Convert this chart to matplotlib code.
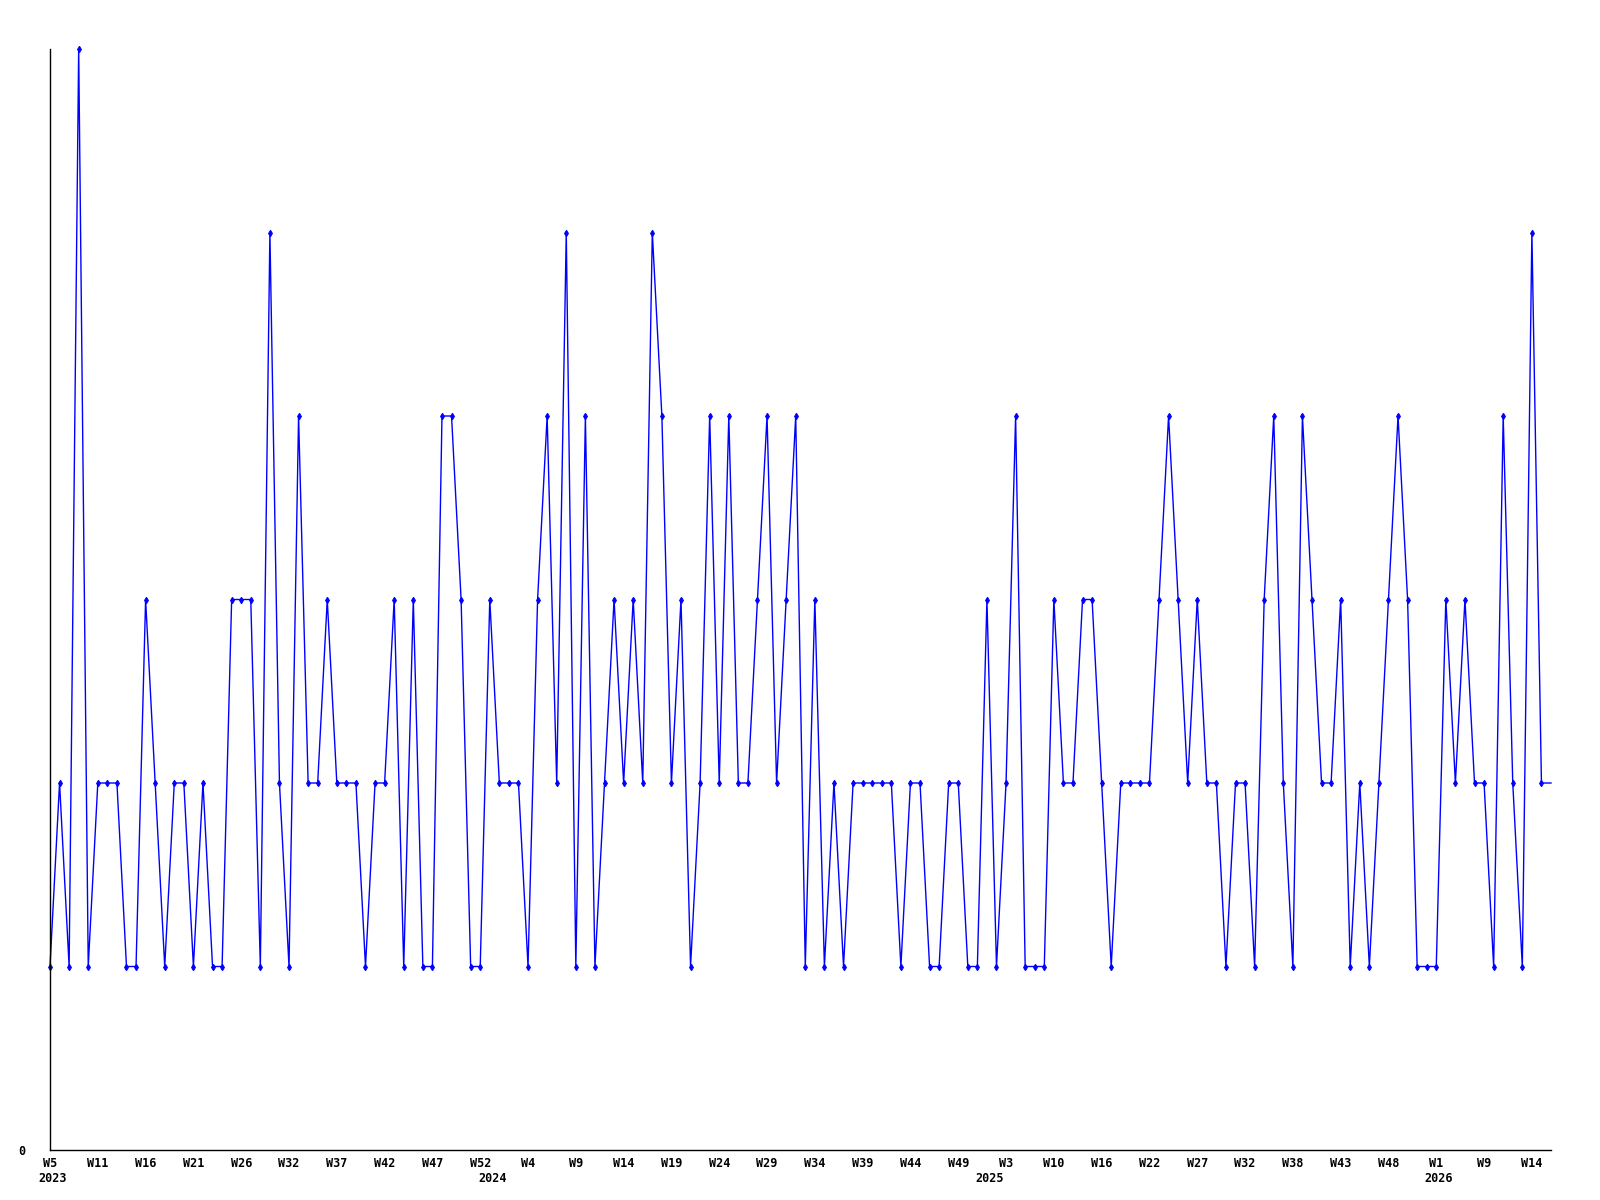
import matplotlib
matplotlib.use("Agg")
import matplotlib.pyplot as plt

# weekly values (index = data point order); last value is the open (current) week
values = [1, 2, 1, 6, 1, 2, 2, 2, 1, 1, 3, 2, 1, 2, 2, 1, 2, 1, 1, 3,
          3, 3, 1, 5, 2, 1, 4, 2, 2, 3, 2, 2, 2, 1, 2, 2, 3, 1, 3, 1,
          1, 4, 4, 3, 1, 1, 3, 2, 2, 2, 1, 3, 4, 2, 5, 1, 4, 1, 2, 3,
          2, 3, 2, 5, 4, 2, 3, 1, 2, 4, 2, 4, 2, 2, 3, 4, 2, 3, 4, 1,
          3, 1, 2, 1, 2, 2, 2, 2, 2, 1, 2, 2, 1, 1, 2, 2, 1, 1, 3, 1,
          2, 4, 1, 1, 1, 3, 2, 2, 3, 3, 2, 1, 2, 2, 2, 2, 3, 4, 3, 2,
          3, 2, 2, 1, 2, 2, 1, 3, 4, 2, 1, 4, 3, 2, 2, 3, 1, 2, 1, 2,
          3, 4, 3, 1, 1, 1, 3, 2, 3, 2, 2, 1, 4, 2, 1, 5, 2, 2]

week_labels = ["W5", "W11", "W16", "W21", "W26", "W32", "W37", "W42", "W47", "W52",
               "W4", "W9", "W14", "W19", "W24", "W29", "W34", "W39", "W44", "W49",
               "W3", "W10", "W16", "W22", "W27", "W32", "W38", "W43", "W48", "W1",
               "W9", "W14"]
label_step = 5
years = ["2023", "2024", "2025", "2026"]
year_index = [0, 46, 98, 145]

x = list(range(len(values)))

fig = plt.figure(figsize=(16, 12), dpi=100)
ax = fig.add_axes([50 / 1600, 50 / 1200, 1501 / 1600, 1101 / 1200])

ax.plot(x, values, color="#0000ff", linewidth=1.0, marker="d", markersize=3.2,
        markeredgewidth=0.8, markevery=list(range(len(values) - 1)), clip_on=False)

ax.set_xlim(0, len(values) - 1)
ax.set_ylim(0, 6)

for s in ["top", "right"]:
    ax.spines[s].set_visible(False)
for s in ["left", "bottom"]:
    ax.spines[s].set_color("black")
    ax.spines[s].set_linewidth(1.0)

font = dict(family="DejaVu Sans Mono", fontsize=8.5, fontweight="bold")

ax.set_yticks([0])
ax.set_yticklabels(["0"], **font)
ax.tick_params(axis="y", length=0, pad=17.5)

ticks = [i * label_step for i in range(len(week_labels))]
ax.set_xticks(ticks)
ax.set_xticklabels(week_labels, **font)
ax.tick_params(axis="x", length=0, pad=5)

for yr, idx in zip(years, year_index):
    ax.annotate(yr, xy=(idx, 0), xycoords="data", xytext=(-8.5, -15.5),
                textcoords="offset points", ha="left", va="top", **font)

fig.savefig("out.png", dpi=100)
